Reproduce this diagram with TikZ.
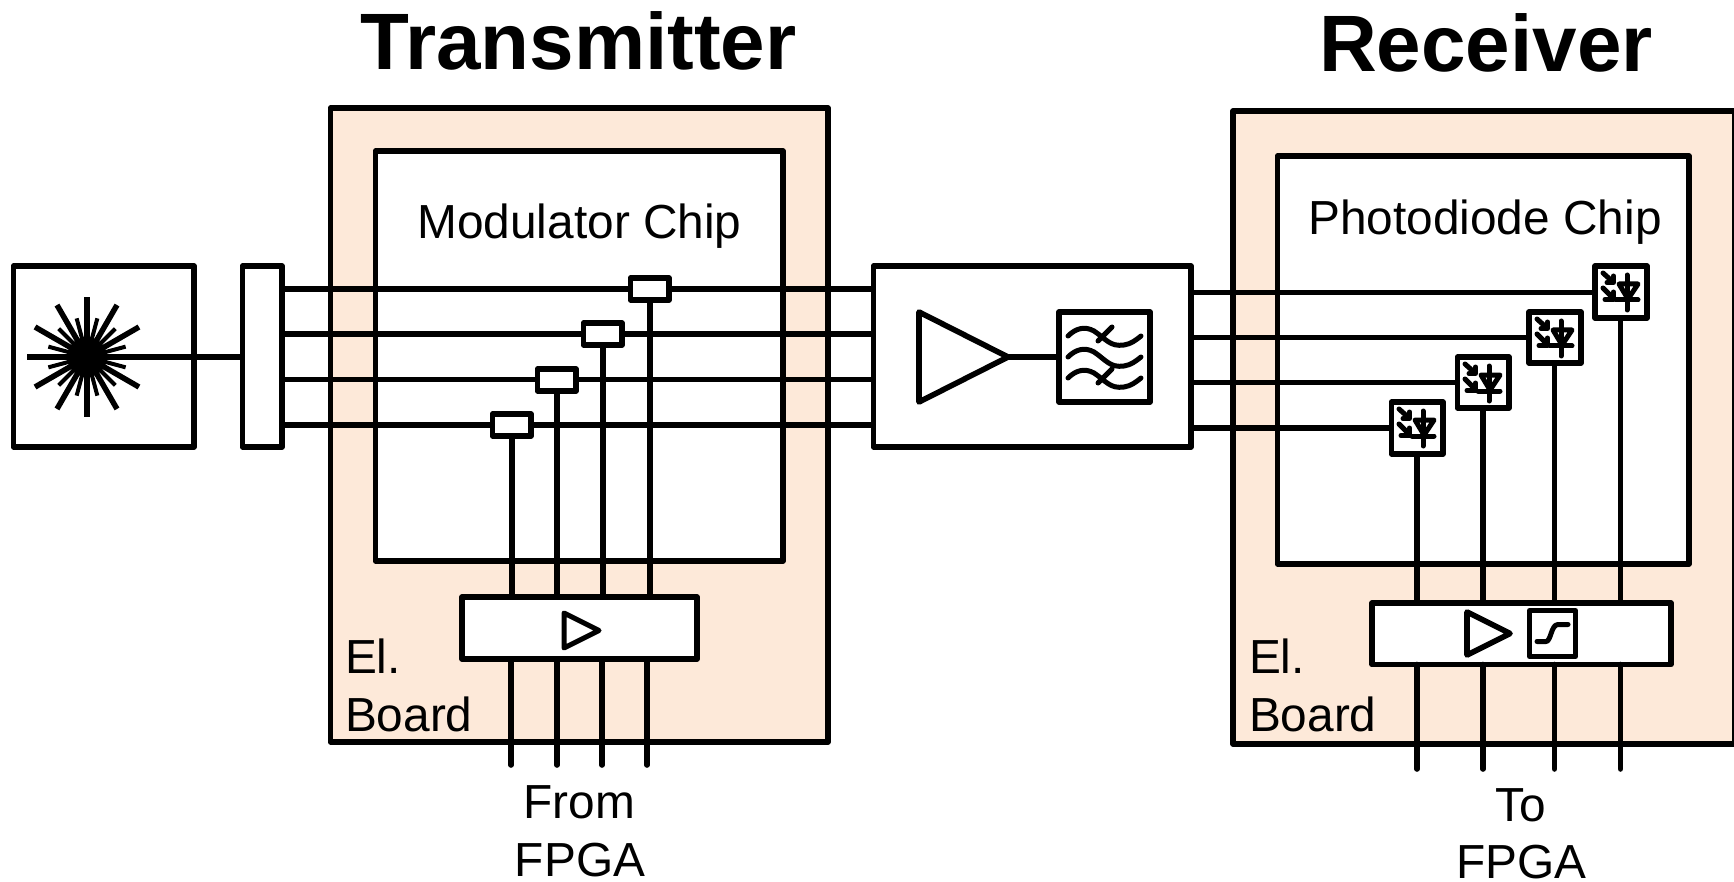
\documentclass[tikz,border=0pt]{standalone}
\usepackage{fontspec}
\setmainfont{Liberation Sans}
\definecolor{board}{HTML}{FDE9D9}
\tikzset{
  x=1pt,y=-1pt,
  stroke/.style={line width=5.6pt,line join=round,draw=black},
  thinstroke/.style={line width=5pt,line join=round,draw=black},
  wire/.style={line width=5.6pt,line cap=butt,draw=black},
  endwire/.style={line width=5.6pt,line cap=round,draw=black},
  icon/.style={line width=5pt,line join=round,line cap=round,draw=black},
  longray/.style={line width=5.5pt,draw=black},
  shortray/.style={line width=4pt,draw=black},
  box/.style={stroke,fill=white,inner sep=0pt,outer sep=0pt,rectangle},
  thinbox/.style={thinstroke,fill=white,inner sep=0pt,outer sep=0pt,rectangle},
  boardbox/.style={stroke,fill=board,inner sep=0pt,outer sep=0pt,rectangle},
  lab/.style={inner sep=0pt,outer sep=0pt,anchor=base,font=\fontsize{47.8}{50}\selectfont},
  labl/.style={lab,anchor=base west},
  ttl/.style={inner sep=0pt,outer sep=0pt,anchor=base,font=\fontsize{80}{84}\bfseries\selectfont},
}
% node from corner coordinates: name, x1, y1, x2, y2, style
\newcommand{\boxat}[6]{%
  \pgfmathsetmacro{\bw}{#4-#2}\pgfmathsetmacro{\bh}{#5-#3}%
  \pgfmathsetmacro{\bx}{(#4+#2)/2}\pgfmathsetmacro{\by}{(#5+#3)/2}%
  \node[#6,minimum width=\bw pt,minimum height=\bh pt] (#1) at (\bx,\by) {};}
\newcommand{\pdicon}[1]{%
  \begin{scope}[shift={(#1)},icon]
    % box-relative coordinates, top-left of the box is the origin
    \draw (8,7) -- (18,16);
    \draw (12,16.5) -- (18.5,16.5) -- (18.5,10);
    \draw (8,22) -- (18,32);
    \draw (10,33.5) -- (18.5,33.5) -- (18.5,26);
    \draw (24,18) -- (43,18) -- (33,33) -- cycle;
    \draw (32,9) -- (32,44);
    \draw (21,34) -- (43,34);
  \end{scope}}
\begin{document}
\begin{tikzpicture}
\useasboundingbox (0,0) rectangle (1734,882);
\clip (0,0) rectangle (1734,882);
\fill[white] (0,0) rectangle (1734,882);

% boards and chips
\boxat{txboard}{330.5}{108}{828}{742}{boardbox}
\boxat{modchip}{375.5}{151}{783}{561}{box}
\boxat{rxboard}{1233}{111}{1735}{744}{boardbox}
\boxat{pdchip}{1277.5}{156}{1689}{564}{box}

% titles and labels
\node[ttl] (ttltx) at (578.5,70) {Transmitter};
\node[ttl] (ttlrx) at (1486,72) {Receiver};
\node[lab] (modlab) at (579.5,239) {Modulator Chip};
\node[lab] (pdlab) at (1485,235) {Photodiode Chip};
\node[labl] (el1) at (345,673) {El.};
\node[labl] (bd1) at (345,731) {Board};
\node[labl] (el2) at (1249,673) {El.};
\node[labl] (bd2) at (1249,731) {Board};
\node[lab] (from) at (579.5,818) {From};
\node[lab] (fpga1) at (580,876) {FPGA};
\node[lab] (to) at (1521,821) {To};
\node[lab] (fpga2) at (1521.5,878) {FPGA};

% laser and coupler
\boxat{laser}{13.5}{266}{194}{447}{box}
\boxat{coupler}{242.5}{266}{282}{447}{box}
\fill[black] (87,357) circle (20);
\foreach \a in {0,30,...,330} \draw[longray] (87,357) -- ++(\a:60);
\foreach \a in {15,45,...,345} \draw[shortray] (87,357) -- ++(\a:40);
\coordinate (laserc) at (87,357);
\draw[wire] (laserc) -- (coupler.west |- laserc);

% amp box
\boxat{ampbox}{873.5}{266}{1191}{447}{box}

% modulators
\coordinate (y1) at (0,289);
\coordinate (y2) at (0,334);
\coordinate (y3) at (0,379.5);
\coordinate (y4) at (0,425);
\foreach \yy in {y1,y2,y3,y4}{
  \draw[wire] (coupler.east |- \yy) -- (ampbox.west |- \yy);
}
\boxat{drv}{462}{597}{697}{659}{box}
\boxat{mod1}{630.5}{278}{669}{300}{box}
\boxat{mod2}{583.5}{323}{622}{345}{box}
\boxat{mod3}{537.5}{369}{576}{391}{box}
\boxat{mod4}{492.5}{414}{531}{436}{box}
\foreach \n in {1,2,3,4}{
  \draw[wire] (mod\n.south) -- (mod\n.south |- drv.north);
}
\coordinate (t1) at (647,765);
\coordinate (t2) at (602,765);
\coordinate (t3) at (557,765);
\coordinate (t4) at (511,765);
\foreach \n in {1,2,3,4}{
  \draw[endwire] (drv.south -| t\n) -- (t\n);
}
\draw[thinstroke] (564,613) -- (599,630.5) -- (564,648) -- cycle;

% amplifier and filter
\boxat{filter}{1059}{312}{1150}{402}{box}
\coordinate (amptip) at (1008,357);
\draw[stroke] (919,312) -- (amptip) -- (919,402) -- cycle;
\draw[wire] (amptip) -- (filter.west |- amptip);
\foreach \d in {0,21,42}{
  \begin{scope}[shift={(0,\d)}]
    \draw[icon] (1068,336) .. controls (1076,328) and (1085,326) .. (1094,331)
      .. controls (1106,339) and (1110,347) .. (1124,345)
      .. controls (1131,344) and (1136,340) .. (1141,336);
  \end{scope}
}
\draw[icon] (1098,341) -- (1112,327);
\draw[icon] (1098,383) -- (1112,369);

% receiver
\boxat{tia}{1372}{603}{1671}{664.5}{box}
\boxat{pd1}{1595}{266}{1647}{318}{box}
\boxat{pd2}{1529}{312}{1581}{363}{box}
\boxat{pd3}{1457.5}{357}{1509}{408}{box}
\boxat{pd4}{1391.5}{402}{1443}{454}{box}
\coordinate (ry1) at (0,292.5);
\coordinate (ry2) at (0,337.5);
\coordinate (ry3) at (0,382.5);
\coordinate (ry4) at (0,428);
\coordinate (v1) at (1620.5,769);
\coordinate (v2) at (1554.5,769);
\coordinate (v3) at (1483,769);
\coordinate (v4) at (1417,769);
\foreach \n in {1,2,3,4}{
  \draw[wire] (ampbox.east |- ry\n) -- (pd\n.west |- ry\n);
  \draw[wire] (pd\n.south -| v\n) -- (tia.north -| v\n);
  \draw[endwire] (tia.south -| v\n) -- (v\n);
}
\pdicon{1595,266}
\pdicon{1529,312}
\pdicon{1457,357}
\pdicon{1391,402}
\draw[stroke] (1467,612) -- (1510,633.5) -- (1467,655) -- cycle;
\boxat{limiter}{1529.5}{610.5}{1575.5}{656.5}{thinbox}
\draw[icon] (1537,641.5) -- (1546,641.5) .. controls (1551,641.5) and (1551,624.5) .. (1558,624.5) -- (1568,624.5);
\end{tikzpicture}
\end{document}
